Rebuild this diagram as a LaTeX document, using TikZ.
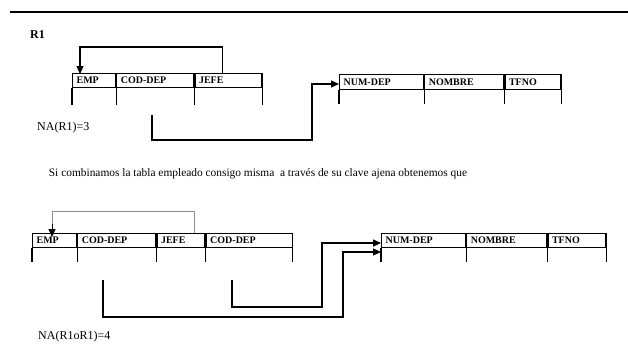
\documentclass[tikz,border=0pt]{standalone}
\usepackage{fontspec}
\setmainfont{Liberation Serif}
\usetikzlibrary{arrows.meta}
\begin{document}
\begin{tikzpicture}[x=1pt,y=-1pt,
  cell/.style={draw, line width=1.2pt, minimum height=14pt, inner xsep=4pt, inner ysep=0pt,
    anchor=north west, align=left, font=\bfseries\fontsize{10}{11}\selectfont},
  stub/.style={line width=1.1pt},
  conn/.style={line width=1.1pt, -{Triangle[length=8pt,width=7pt]}},
  faint/.style={line width=0.7pt, draw=black!45},
  lbl/.style={anchor=west, inner sep=0pt, font=\fontsize{12}{13}\selectfont}]
\useasboundingbox (0,0) rectangle (628,359);
% top rule
\coordinate (ruleA) at (10,12);
\coordinate (ruleB) at (628,12);
\draw[line width=1.6pt] (ruleA) -- (ruleB);
\node[lbl, font=\bfseries\fontsize{12}{13}\selectfont] (r1) at (30,35) {R1};
% table 1
\node[cell, text width=35pt] (e1) at (72,73) {EMP};
\node[cell, text width=69pt] (c1) at (e1.north east) {COD-DEP};
\node[cell, text width=59pt] (j1) at (c1.north east) {JEFE};
\foreach \n in {e1,c1,j1} \draw[stub] (\n.south west) -- ++(0,17);
\draw[stub] (j1.south east) -- ++(0,17);
% table 2
\node[cell, text width=76pt, minimum height=15pt] (n2) at (339,74) {NUM-DEP};
\node[cell, text width=71pt, minimum height=15pt] (m2) at (n2.north east) {NOMBRE};
\node[cell, text width=48pt, minimum height=15pt] (t2) at (m2.north east) {TFNO};
\foreach \n in {n2,m2,t2} \draw[stub] (\n.south west) -- ++(0,14);
\draw[stub] (t2.south east) -- ++(0,14);
\node[lbl] (na1) at (37,128) {NA(R1)=3};
% loop on table 1
\coordinate (l1s) at ([xshift=28pt]j1.north west);
\coordinate (l1e) at ([xshift=8pt]e1.north west);
\draw[conn] (l1s) |- (80,47) -| ([yshift=-1pt]l1e);
% connector 1
\coordinate (k1) at (152,115);
\draw[conn] (k1) |- (312,140) |- ([yshift=-10pt]n2.north west);
% sentence
\node[anchor=center, inner sep=0pt, font=\fontsize{11.4}{13}\selectfont] (sent) at (258,174)
  {Si combinamos la tabla empleado consigo misma\ \ a través de su clave ajena obtenemos que};
% table 3
\node[cell, text width=36pt] (e3) at (32,233) {EMP};
\node[cell, text width=70pt] (c3) at (e3.north east) {COD-DEP};
\node[cell, text width=40pt] (j3) at (c3.north east) {JEFE};
\node[cell, text width=78pt] (d3) at (j3.north east) {COD-DEP};
\foreach \n in {e3,c3,j3,d3} \draw[stub] (\n.south west) -- ++(0,14);
\draw[stub] (d3.south east) -- ++(0,14);
% table 4
\node[cell, text width=76pt] (n4) at (381,233) {NUM-DEP};
\node[cell, text width=72pt] (m4) at (n4.north east) {NOMBRE};
\node[cell, text width=50pt] (t4) at (m4.north east) {TFNO};
\foreach \n in {n4,m4,t4} \draw[stub] (\n.south west) -- ++(0,14);
\draw[stub] (t4.south east) -- ++(0,14);
% loop on table 3 (faint)
\coordinate (l3s) at ([xshift=38pt]j3.north west);
\coordinate (l3e) at ([xshift=20pt]e3.north west);
\draw[faint] (l3s) |- (52,211) -- (52,226);
\draw[line width=1pt, -{Triangle[length=8pt,width=7pt]}] (52,224) -- ([yshift=-4pt]l3e);
% connectors 2 and 3
\coordinate (k2) at (103,280);
\coordinate (k3) at (232,280);
\draw[conn] (k2) |- (343,317) |- ([yshift=-19pt]n4.north west);
\draw[conn] (k3) |- (322,307) |- ([yshift=-10pt]n4.north west);
\node[lbl] (na2) at (38,337) {NA(R1oR1)=4};
\end{tikzpicture}
\end{document}
